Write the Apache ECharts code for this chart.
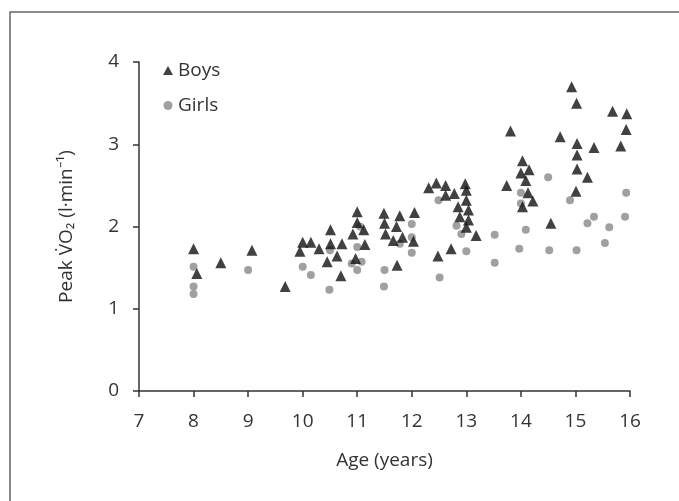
<!DOCTYPE html>
<html><head><meta charset="utf-8">
<script src="https://cdn.jsdelivr.net/npm/echarts@6/dist/echarts.min.js"></script>
<style>html,body{margin:0;padding:0;background:#fff}#c{width:679px;height:501px}</style>
</head><body><div id="c"></div>
<script>
const xTicks = [7, 8, 9, 10, 11, 12, 13, 14, 15, 16];
const yTicks = [0, 1, 2, 3, 4];
const boys = [[8.0,1.73],[8.06,1.43],[8.5,1.56],[9.07,1.71],[9.68,1.27],[9.95,1.70],[10.0,1.81],[10.15,1.81],[10.3,1.73],[10.51,1.96],[10.51,1.79],[10.45,1.57],[10.63,1.64],[10.72,1.79],[10.7,1.40],[10.92,1.91],[11.0,2.18],[11.0,2.05],[10.97,1.61],[11.12,1.96],[11.14,1.78],[11.49,2.16],[11.5,2.04],[11.52,1.91],[11.66,1.83],[11.72,2.0],[11.73,1.53],[11.78,2.13],[11.83,1.87],[12.03,1.82],[12.05,2.17],[12.31,2.47],[12.45,2.53],[12.48,1.64],[12.62,2.50],[12.62,2.38],[12.72,1.73],[12.78,2.40],[12.85,2.24],[12.88,2.12],[12.98,2.52],[13.0,2.44],[13.0,2.32],[13.04,2.20],[13.04,2.08],[13.0,1.99],[13.18,1.89],[13.74,2.50],[13.81,3.16],[14.0,2.65],[14.03,2.80],[14.15,2.69],[14.09,2.56],[14.13,2.41],[14.22,2.31],[14.03,2.24],[14.55,2.04],[14.72,3.09],[14.93,3.70],[15.02,3.50],[15.03,3.01],[15.03,2.87],[15.03,2.70],[15.01,2.43],[15.22,2.60],[15.34,2.96],[15.68,3.40],[15.94,3.37],[15.93,3.18],[15.83,2.98]];
const girls = [[8.0,1.51],[8.0,1.27],[8.0,1.18],[9.0,1.47],[10.0,1.51],[10.15,1.41],[10.5,1.71],[10.49,1.23],[10.9,1.55],[11.0,1.75],[11.0,1.47],[11.05,2.0],[11.08,1.57],[11.5,1.47],[11.49,1.27],[11.78,1.79],[12.0,2.03],[12.0,1.87],[12.0,1.68],[12.49,2.32],[12.51,1.38],[12.82,2.01],[12.91,1.91],[13.0,1.70],[13.52,1.90],[13.52,1.56],[14.0,2.41],[14.0,2.28],[13.97,1.73],[14.09,1.96],[14.5,2.60],[14.52,1.71],[14.9,2.32],[15.02,1.71],[15.22,2.04],[15.34,2.12],[15.54,1.80],[15.62,1.99],[15.93,2.41],[15.91,2.12]];

const FONT = '"Open Sans", sans-serif';
const TXT = '#333';
const chart = echarts.init(document.getElementById('c'));
chart.setOption({
  animation: false,
  backgroundColor: '#fff',
  graphic: [{type:'rect', shape:{x:10, y:12, width:720, height:600}, style:{fill:'none', stroke:'#666', lineWidth:1.5}, silent:true}],
  grid: {left: 139, right: 49, top: 62, bottom: 110},
  legend: {
    left: 158, top: 54, orient: 'vertical', itemGap: 12, itemWidth: 10, itemHeight: 9,
    textStyle: {fontFamily: FONT, fontSize: 19, color: TXT, lineHeight: 23},
    data: [{name:'Boys', icon:'triangle', itemStyle:{color:'#111'}}, {name:'Girls', icon:'circle', itemStyle:{color:'#888'}}]
  },
  xAxis: {
    type: 'value', min: xTicks[0], max: xTicks[xTicks.length-1], interval: 1,
    name: 'Age (years)', nameLocation: 'middle', nameGap: 60,
    nameTextStyle: {fontFamily: FONT, fontSize: 19, color: TXT},
    axisLine: {onZero:false, lineStyle:{color:'#333', width:1.5}},
    axisTick: {inside:false, length:6, lineStyle:{color:'#333', width:1.5}},
    axisLabel: {fontFamily: FONT, fontSize: 19, color: TXT, margin: 21},
    splitLine: {show:false}
  },
  yAxis: {
    type: 'value', min: yTicks[0], max: yTicks[yTicks.length-1], interval: 1,
    name: 'Peak V\u0307O\u2082 (l·min\u207B\u00B9)', nameLocation: 'middle', nameGap: 63,
    nameTextStyle: {fontFamily: FONT, fontSize: 19, color: TXT},
    axisLine: {show:true, lineStyle:{color:'#333', width:1.5}},
    axisTick: {show:true, inside:false, length:6, lineStyle:{color:'#333', width:1.5}},
    axisLabel: {fontFamily: FONT, fontSize: 19, color: TXT, margin: 20},
    splitLine: {show:false}
  },
  series: [
    {name:'Boys', type:'scatter', symbol:'triangle', symbolSize:11, itemStyle:{color:'#111'}, data: boys, z: 3},
    {name:'Girls', type:'scatter', symbol:'circle', symbolSize:8, itemStyle:{color:'#888'}, data: girls, z: 2}
  ]
});
</script></body></html>
